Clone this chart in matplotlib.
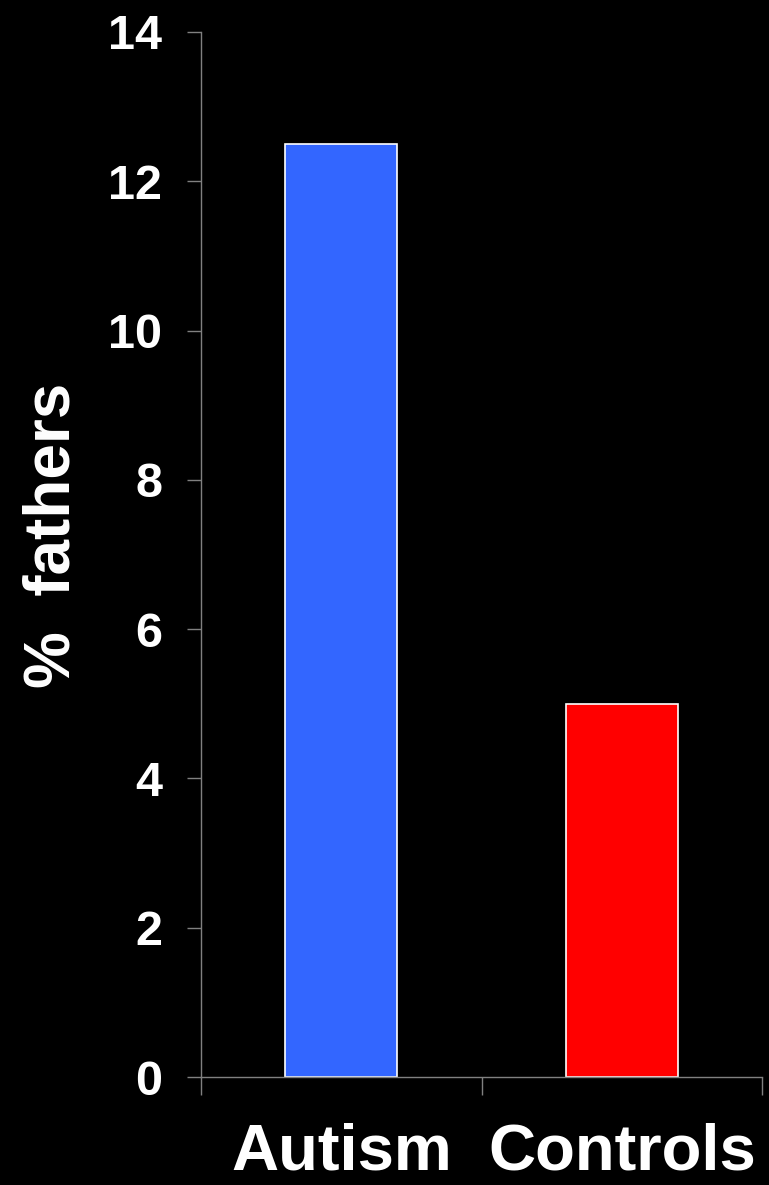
import matplotlib
matplotlib.use("Agg")
from matplotlib import pyplot

groups = ["Autism", "Controls"]
pct_fathers = [12.5, 5.0]
bar_colors = ["#3366FF", "#FF0000"]
y_ticks = [0, 2, 4, 6, 8, 10, 12, 14]

pyplot.rcParams["font.family"] = ["Liberation Sans", "DejaVu Sans"]
pyplot.rcParams["font.weight"] = "bold"

fig = pyplot.figure(figsize=(7.69, 11.85), dpi=100, facecolor="black")
ax = fig.add_axes([0.2614, 0.0911, 0.7295, 0.8819], facecolor="black")

x = list(range(len(groups)))
ax.bar(x, pct_fathers, width=0.4, color=bar_colors, edgecolor="white", linewidth=1.2, zorder=2)

ax.set_xlim(-0.5, 1.5)
ax.set_ylim(0, 14)
ax.set_yticks(y_ticks)
ax.set_yticklabels([str(t) for t in y_ticks], fontsize=35, fontweight="bold", color="white")

# category boundaries carry the x tick marks, labels sit in the middle
ax.set_xticks([-0.5, 0.5, 1.5])
ax.set_xticklabels([])
ax.set_xticks(x, minor=True)
ax.set_xticklabels(groups, minor=True, fontsize=47, fontweight="bold", color="white")
ax.tick_params(axis="x", which="minor", length=0, pad=33)
ax.tick_params(axis="x", which="major", length=13, width=1.0, color="#808080", direction="out")
ax.tick_params(axis="y", length=10, width=1.0, color="#808080", pad=18)

for side in ["top", "right"]:
    ax.spines[side].set_visible(False)
for side in ["left", "bottom"]:
    ax.spines[side].set_color("#808080")
    ax.spines[side].set_linewidth(1.0)
    ax.spines[side].set_zorder(3)

fig.text(0.068, 0.548, "%  fathers", rotation=90, ha="center", va="center",
         fontsize=46, fontweight="bold", color="white")

pyplot.savefig("out.png", dpi=100, facecolor="black")
